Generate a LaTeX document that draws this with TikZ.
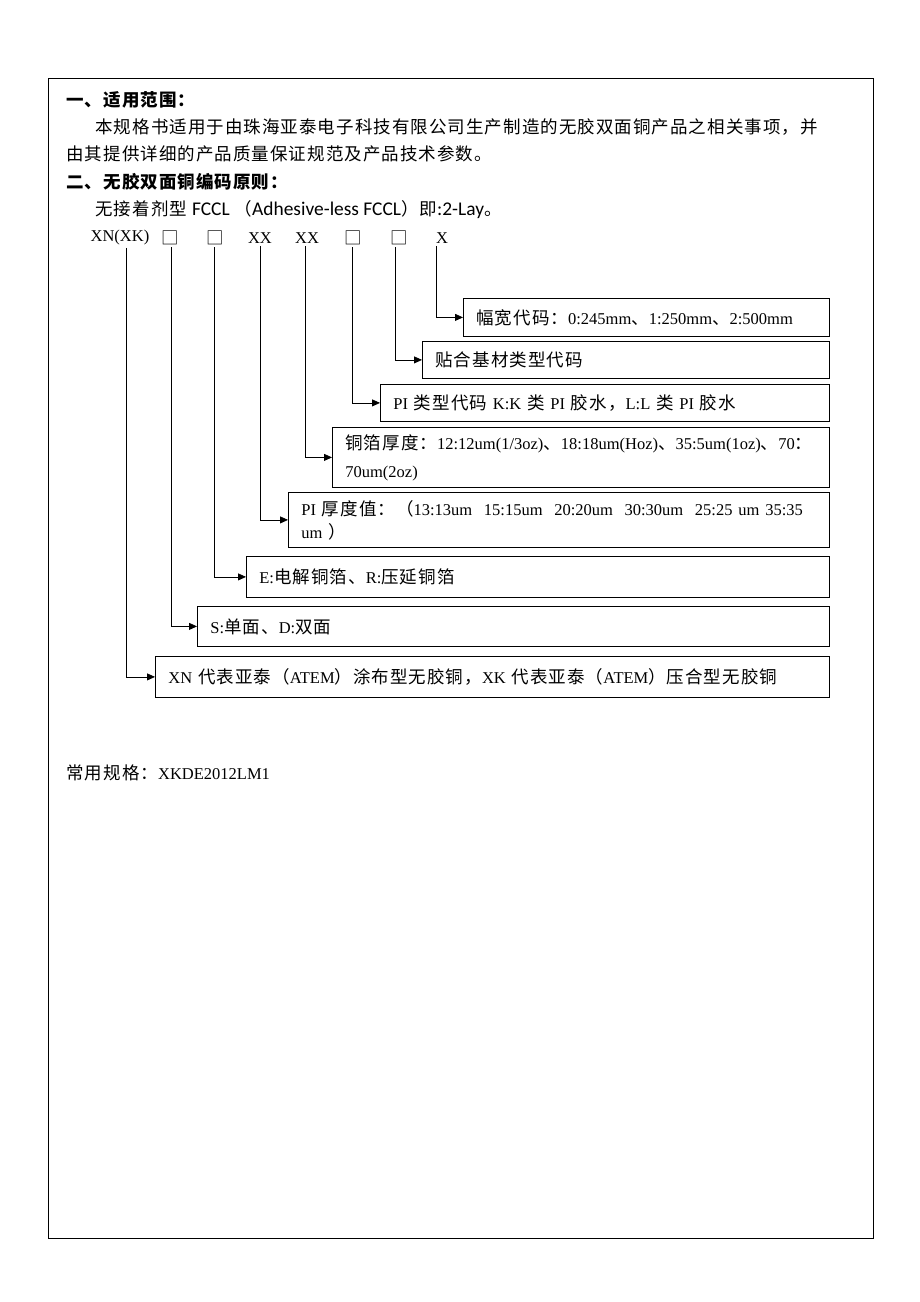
\documentclass[tikz,border=0pt]{standalone}
\usepackage{fontspec}
\setmainfont{Noto Sans CJK SC}[LetterSpace=6]
\newfontfamily\serlat{Liberation Serif}[Scale=0.943]
\newfontfamily\carl{Carlito}[Scale=1.11]
\newcommand\bodyfont{\fontsize{17.5}{20}\selectfont}
\usetikzlibrary{arrows.meta}
\tikzset{
  every node/.style={font=\bodyfont},
  txt/.style={anchor=west, inner sep=0pt},
  head/.style={txt, font=\bodyfont\bfseries},
  code/.style={inner sep=2pt, font=\bodyfont\serlat},
  sq/.style={inner sep=2pt},
  box/.style={draw, anchor=north west, inner xsep=13pt, inner ysep=2pt, align=left},
  arr/.style={-{Triangle[length=8pt,width=7pt]}},
}
\begin{document}
\begin{tikzpicture}[x=1pt,y=-1pt,line width=0.8pt]
\useasboundingbox (0,0) rectangle (920,1302);
\draw (48,78) rectangle (873,1238);

\node[head] (t1) at (66,100) {一、适用范围：};
\node[txt] (t2) at (95,127) {本规格书适用于由珠海亚泰电子科技有限公司生产制造的无胶双面铜产品之相关事项，并};
\node[txt] (t3) at (66,154) {由其提供详细的产品质量保证规范及产品技术参数。};
\node[head] (t4) at (66,182) {二、无胶双面铜编码原则：};
\node[txt] (t5) at (95,210) {无接着剂型 {\carl FCCL} （{\carl Adhesive-less FCCL}）即{\carl :2-Lay}。};

% code row
\node[code] (c1) at (120,238) {XN(XK)};
\node[sq] (c2) at (170,238) {□};
\node[sq] (c3) at (215,238) {□};
\node[code] (c4) at (260,238) {XX};
\node[code] (c5) at (307,238) {XX};
\node[sq] (c6) at (353,238) {□};
\node[sq] (c7) at (399,238) {□};
\node[code] (c8) at (442,238) {X};

% explanation boxes
\node[box, minimum height=38pt, text width=340pt] (b1) at (463,298)
  {幅宽代码：{\serlat 0:245mm}、{\serlat 1:250mm}、{\serlat 2:500mm}};
\node[box, minimum height=37pt, text width=381pt] (b2) at (422,341)
  {贴合基材类型代码};
\node[box, minimum height=37pt, text width=423pt] (b3) at (380,384)
  {{\serlat PI }类型代码{\serlat\ K:K }类{\serlat\ PI }胶水，{\serlat L:L }类{\serlat\ PI }胶水};
\node[box, minimum height=60pt, text width=471pt] (b4) at (332,427)
  {\mbox{铜箔厚度：{\serlat 12:12um(1/3oz)}、{\serlat 18:18um(Hoz)}、{\serlat 35:5um(1oz)}、{\serlat 70}：}\\[8pt]
   {\serlat 70um(2oz)}};
\node[box, minimum height=55pt, text width=515pt] (b5) at (288,492)
  {\mbox{{\serlat PI }厚度值：（{\serlat 13:13um~~15:15um~~20:20um~~30:30um~~25:25~um~35:35}}\\[3pt]
   {\serlat um }）};
\node[box, minimum height=41pt, text width=557pt] (b6) at (246,556)
  {{\serlat E:}电解铜箔、{\serlat R:}压延铜箔};
\node[box, minimum height=40pt, text width=606pt] (b7) at (197,606)
  {{\serlat S:}单面、{\serlat D:}双面};
\node[box, minimum height=41pt, text width=648pt] (b8) at (155,656)
  {{\serlat XN }代表亚泰（{\serlat ATEM}）涂布型无胶铜，{\serlat XK }代表亚泰（{\serlat ATEM}）压合型无胶铜};

\foreach \c/\b/\dx in {c1/b8/6, c2/b7/1, c3/b6/-1, c4/b5/0, c5/b4/-2, c6/b3/-1, c7/b2/-4, c8/b1/-6}
  \draw[arr] ([xshift=\dx pt]\c.south) |- (\b.west);

\node[txt] (t6) at (66,773) {常用规格：{\serlat XKDE2012LM1}};
\end{tikzpicture}
\end{document}
